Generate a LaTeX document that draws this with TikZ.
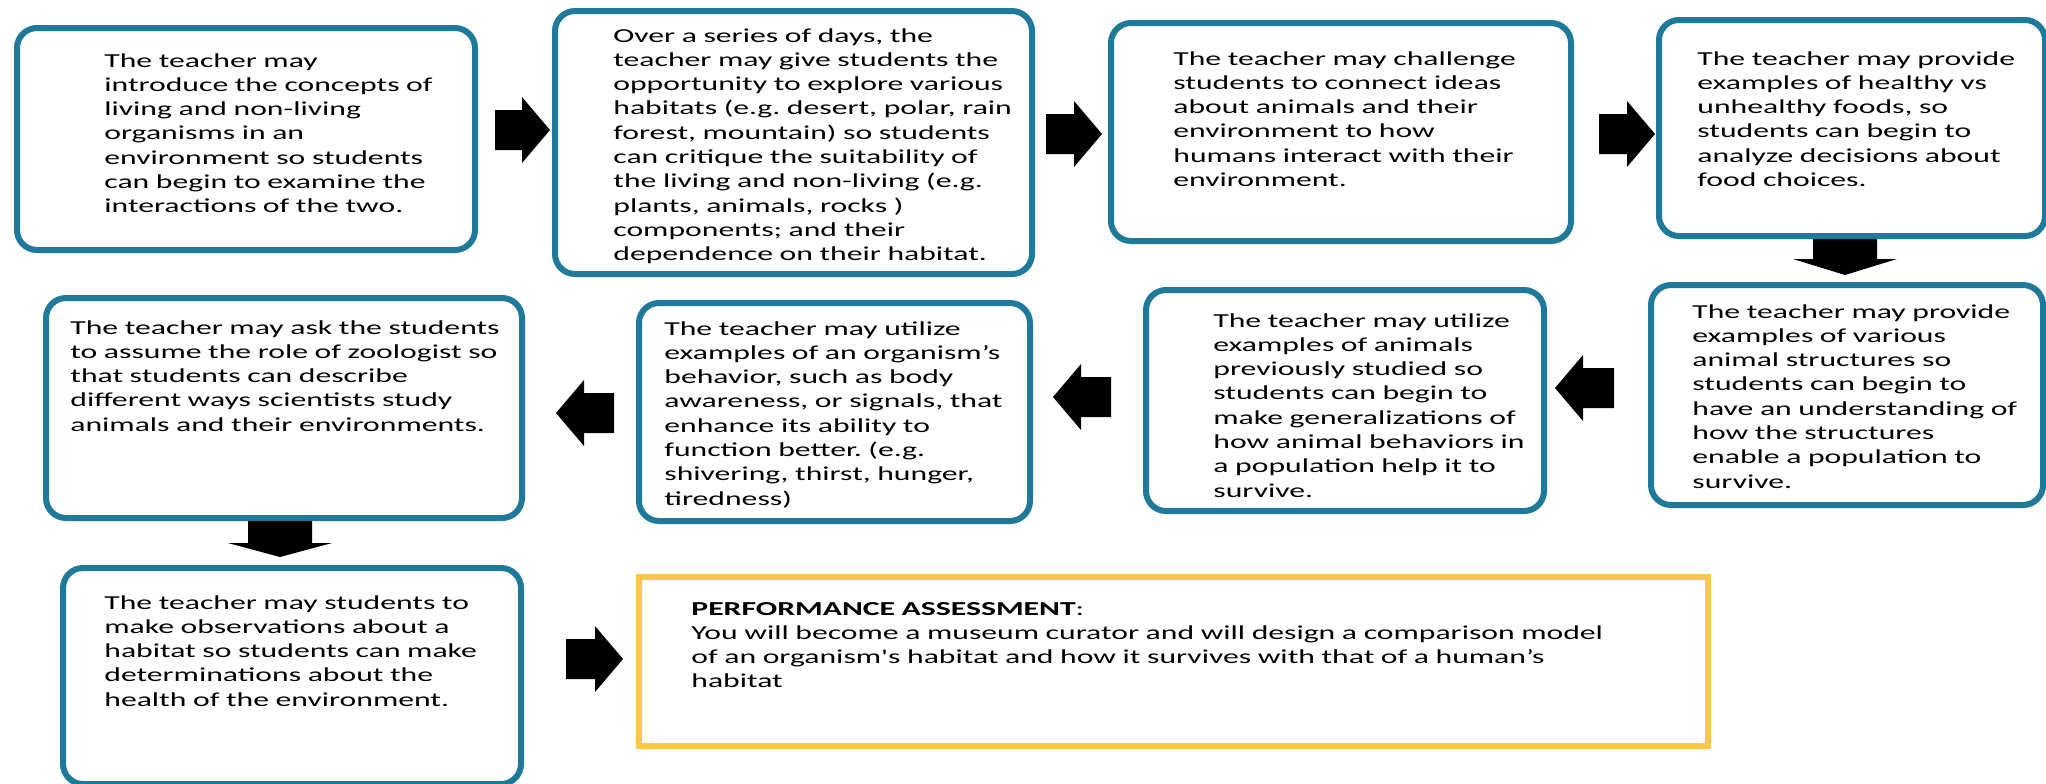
\documentclass[tikz,border=0pt]{standalone}
\usepackage{fontspec}
\setmainfont{Carlito}[FakeStretch=1.6, Ligatures=TeXOff]
\frenchspacing
\usetikzlibrary{calc}
\definecolor{stageblue}{RGB}{31,121,155}
\definecolor{assessyellow}{RGB}{255,198,79}
\tikzset{
    x=0.5pt, y=-0.5pt,
    stage/.style={
        draw=stageblue,
        line width=3pt,
        rounded corners=10pt,
        fill=white,
        inner sep=0pt,
        anchor=north west},
    assess/.style={
        stage,
        draw=assessyellow,
        sharp corners},
    stagetext/.style={
        anchor=base west,
        align=left,
        inner sep=0pt,
        text width=300pt,
        font=\fontsize{9.9}{12.15}\selectfont},
    blk/.style={fill=black}}
% block arrow: tail, tip, shaft half width, head half width, head length
\newcommand\blockarrow[5]{%
    \coordinate (#1h) at ($(#2)!#5!(#1)$);
    \fill[blk] ($(#1)!#3!90:(#2)$) -- ($(#1h)!#3!90:(#2)$) -- ($(#1h)!#4!90:(#2)$)
        -- (#2) -- ($(#1h)!#4!-90:(#2)$) -- ($(#1h)!#3!-90:(#2)$)
        -- ($(#1)!#3!-90:(#2)$) -- cycle;}

\begin{document}
\begin{tikzpicture}
    \useasboundingbox (0,0) rectangle (2046,783);
    % top row
    \node[stage, minimum width=229pt, minimum height=111pt] (b1) at (14,25) {};
    \node[stage, minimum width=238.5pt, minimum height=131.5pt] (b2) at (552,8) {};
    \node[stage, minimum width=230pt, minimum height=109pt] (b3) at (1108,20) {};
    \node[stage, minimum width=193pt, minimum height=108pt] (b4) at (1656,17) {};
    % middle row
    \node[stage, minimum width=196pt, minimum height=110pt] (b5) at (1648,282) {};
    \node[stage, minimum width=199pt, minimum height=110.5pt] (b6) at (1143,287) {};
    \node[stage, minimum width=195.5pt, minimum height=109pt] (b7) at (636,300) {};
    \node[stage, minimum width=238pt, minimum height=110pt] (b8) at (43,295) {};
    % bottom row
    \node[stage, minimum width=229pt, minimum height=108pt] (b9) at (60,565) {};
    \node[assess, minimum width=534.5pt, minimum height=84.5pt] (pa) at (636,574) {};

    \node[stagetext] (t1) at (104,67) {The teacher may\\
        introduce the concepts of\\
        living and non-living\\
        organisms in an\\
        environment so students\\
        can begin to examine the\\
        interactions of the two.};
    \node[stagetext] (t2) at (613,42) {Over a series of days, the\\
        teacher may give students the\\
        opportunity to explore various\\
        habitats (e.g. desert, polar, rain\\
        forest, mountain) so students\\
        can critique the suitability of\\
        the living and non-living (e.g.\\
        plants, animals, rocks )\\
        components; and their\\
        dependence on their habitat.};
    \node[stagetext] (t3) at (1173,65) {The teacher may challenge\\
        students to connect ideas\\
        about animals and their\\
        environment to how\\
        humans interact with their\\
        environment.};
    \node[stagetext] (t4) at (1697,65) {The teacher may provide\\
        examples of healthy vs\\
        unhealthy foods, so\\
        students can begin to\\
        analyze decisions about\\
        food choices.};
    \node[stagetext] (t5) at (1692,318) {The teacher may provide\\
        examples of various\\
        animal structures so\\
        students can begin to\\
        have an understanding of\\
        how the structures\\
        enable a population to\\
        survive.};
    \node[stagetext] (t6) at (1213,327) {The teacher may utilize\\
        examples of animals\\
        previously studied so\\
        students can begin to\\
        make generalizations of\\
        how animal behaviors in\\
        a population help it to\\
        survive.};
    \node[stagetext] (t7) at (664,335) {The teacher may utilize\\
        examples of an organism’s\\
        behavior, such as body\\
        awareness, or signals, that\\
        enhance its ability to\\
        function better. (e.g.\\
        shivering, thirst, hunger,\\
        tiredness)};
    \node[stagetext] (t8) at (70,334) {The teacher may ask the students\\
        to assume the role of zoologist so\\
        that students can describe\\
        different ways scientists study\\
        animals and their environments.};
    \node[stagetext] (t9) at (104,609) {The teacher may students to\\
        make observations about a\\
        habitat so students can make\\
        determinations about the\\
        health of the environment.};
    \node[stagetext, text width=520pt] (tp) at (691,615) {\textbf{PERFORMANCE ASSESSMENT}:\\
        You will become a museum curator and will design a comparison model\\
        of an organism's habitat and how it survives with that of a human’s\\
        habitat};

    % arrows
    \coordinate (a1) at (495,130);  \coordinate (a1e) at (550,130);
    \coordinate (a2) at (1046,134); \coordinate (a2e) at (1102,134);
    \coordinate (a3) at (1599,134); \coordinate (a3e) at (1655,134);
    \coordinate (a4) at (1845,239); \coordinate (a4e) at (1845,275);
    \coordinate (a5) at (1614,388); \coordinate (a5e) at (1555,388);
    \coordinate (a6) at (1111,397); \coordinate (a6e) at (1053,397);
    \coordinate (a7) at (614,413);  \coordinate (a7e) at (556,413);
    \coordinate (a8) at (280,521);  \coordinate (a8e) at (280,557);
    \coordinate (a9) at (566,659);  \coordinate (a9e) at (623,659);
    \blockarrow{a1}{a1e}{10pt}{16.5pt}{14pt}
    \blockarrow{a2}{a2e}{10pt}{16.5pt}{14pt}
    \blockarrow{a3}{a3e}{10pt}{16.5pt}{14pt}
    \blockarrow{a4}{a4e}{16pt}{26pt}{8pt}
    \blockarrow{a5}{a5e}{10pt}{16.5pt}{14pt}
    \blockarrow{a6}{a6e}{10pt}{16.5pt}{14pt}
    \blockarrow{a7}{a7e}{10pt}{16.5pt}{14pt}
    \blockarrow{a8}{a8e}{16pt}{26pt}{7pt}
    \blockarrow{a9}{a9e}{10pt}{16.5pt}{14pt}
\end{tikzpicture}
\end{document}
